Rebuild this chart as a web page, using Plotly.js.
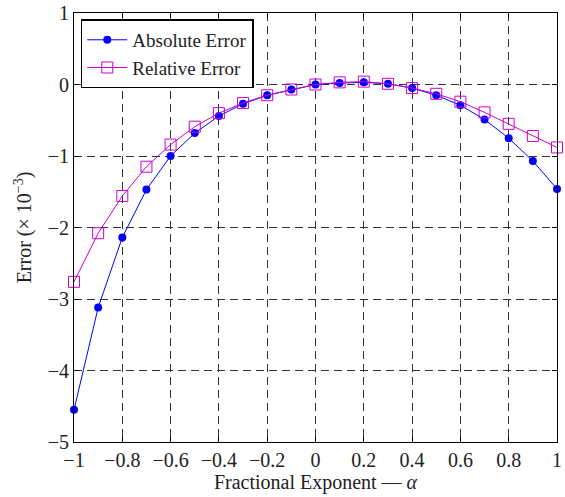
<!DOCTYPE html>
<html><head><meta charset="utf-8">
<script src="https://cdn.plot.ly/plotly-3.0.1.min.js"></script>
<style>html,body{margin:0;padding:0;background:#fff}#chart{width:565px;height:497px}</style>
</head><body><div id="chart"></div>
<script>
const alpha = [-1,-0.9,-0.8,-0.7,-0.6,-0.5,-0.4,-0.3,-0.2,-0.1,0,0.1,0.2,0.3,0.4,0.5,0.6,0.7,0.8,0.9,1];
const absErr = [-4.55,-3.12,-2.14,-1.47,-1.00,-0.68,-0.44,-0.27,-0.15,-0.07,0,0.02,0.03,0.01,-0.05,-0.15,-0.29,-0.49,-0.75,-1.07,-1.46];
const relErr = [-2.76,-2.08,-1.56,-1.15,-0.84,-0.59,-0.40,-0.26,-0.15,-0.07,0,0.03,0.04,0.01,-0.05,-0.13,-0.24,-0.39,-0.55,-0.72,-0.88];
const xTicks = [-1,-0.8,-0.6,-0.4,-0.2,0,0.2,0.4,0.6,0.8,1];
const yTicks = [-5,-4,-3,-2,-1,0,1];

const font = {family:'Liberation Serif, Times New Roman, serif', size:20, color:'#222'};
const data = [
  {x:alpha, y:absErr, name:'Absolute Error', mode:'lines+markers', type:'scatter', cliponaxis:false,
   line:{color:'#0000ff', width:1}, marker:{symbol:'circle', size:8, color:'#0000ff'}},
  {x:alpha, y:relErr, name:'Relative Error', mode:'lines+markers', type:'scatter', cliponaxis:false,
   line:{color:'#cc00cc', width:1}, marker:{symbol:'square-open', size:11, color:'#cc00cc', line:{width:1}}}
];
const axisCommon = {showline:true, linecolor:'#000', linewidth:1, mirror:'ticks', ticks:'inside', ticklen:5,
  tickcolor:'#000', showgrid:true, gridcolor:'#333', griddash:'8px,5px', gridwidth:1, zeroline:false,
  tickfont:font};
const layout = {
  width:565, height:497, margin:{l:74, r:8, t:13, b:55},
  paper_bgcolor:'#fff', plot_bgcolor:'#fff', font:font,
  xaxis:Object.assign({}, axisCommon, {range:[-1,1], tickvals:xTicks, ticktext:xTicks.map(v=>String(v).replace('-','\u2212')),
    title:{text:'Fractional Exponent \u2014 <i>\u03b1</i>', font:font, standoff:0}}),
  yaxis:Object.assign({}, axisCommon, {range:[-5,1], tickvals:yTicks, ticktext:yTicks.map(v=>String(v).replace('-','\u2212')),
    title:{text:'Error (\u00d7 10<sup>\u22123</sup>)', font:font, standoff:10}}),
  showlegend:true,
  legend:{x:0.014, y:0.985, xanchor:'left', yanchor:'top', bgcolor:'#fff', bordercolor:'#000', borderwidth:1.5,
    font:Object.assign({}, font, {size:19}), tracegroupgap:0, itemwidth:40}
};
Plotly.newPlot('chart', data, layout, {displayModeBar:false, staticPlot:true});
</script></body></html>
